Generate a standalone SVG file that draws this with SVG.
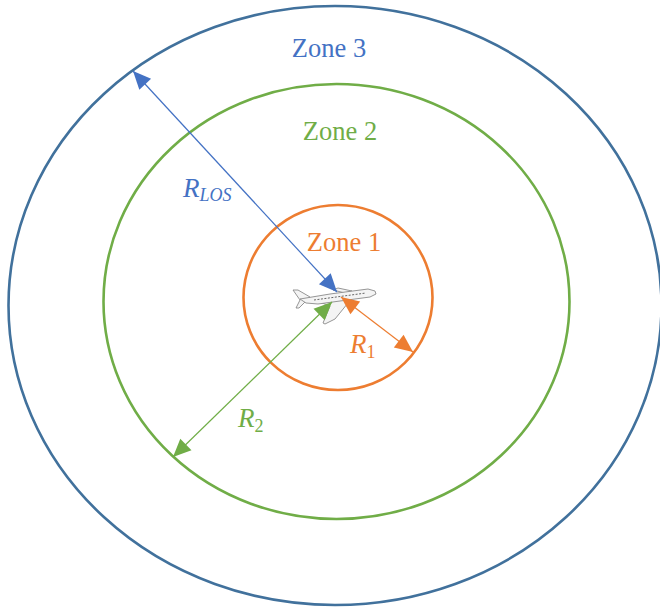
<svg xmlns="http://www.w3.org/2000/svg" width="660" height="608" viewBox="0 0 660 608">
<style>
.z{fill:none;stroke-width:2.6}
.c{fill:none;stroke-width:1.2}
.t{font-family:"Liberation Serif",serif;font-size:26.5px}
.m{font-family:"Liberation Serif",serif;font-size:27px;font-style:italic}
.s{font-size:18px}
.p{fill:#f4f4f4;stroke:#8a8a8a;stroke-width:.9}
.blue{fill:#4472c4}.green{fill:#70ad47}.orange{fill:#ed7d31}
</style>
<defs>
<marker id="ab" markerUnits="userSpaceOnUse" markerWidth="20" markerHeight="18" refX="19" refY="9" orient="auto-start-reverse"><path d="M1 1L19 9L1 17Z" fill="#4472c4"/></marker>
<marker id="ag" markerUnits="userSpaceOnUse" markerWidth="20" markerHeight="18" refX="19" refY="9" orient="auto-start-reverse"><path d="M1 1L19 9L1 17Z" fill="#70ad47"/></marker>
<marker id="ao" markerUnits="userSpaceOnUse" markerWidth="20" markerHeight="18" refX="19" refY="9" orient="auto-start-reverse"><path d="M1 1L19 9L1 17Z" fill="#ed7d31"/></marker>
</defs>
<rect width="660" height="608" fill="#fff"/>
<g id="zone3"><ellipse class="z" cx="335" cy="305.5" rx="326.5" ry="299.5" stroke="#41719c"/><text class="t blue" x="329" y="57" text-anchor="middle">Zone 3</text></g>
<g id="zone2"><ellipse class="z" cx="336.5" cy="301.5" rx="233" ry="217.5" stroke="#70ad47"/><text class="t green" x="340" y="140" text-anchor="middle">Zone 2</text></g>
<g id="zone1"><ellipse class="z" cx="338" cy="297.5" rx="94.5" ry="92.5" stroke="#ed7d31"/><text class="t orange" x="344" y="251" text-anchor="middle">Zone 1</text></g>
<g id="aircraft">
<path class="p" d="M322 303L340 299L352 298L335 319L325 324L323 323L330 306Z"/>
<path class="p" d="M333 290L338 288L352 291L345 293Z"/>
<path class="p" d="M293 290L298 290L310 297L308 299L299 308L296 308L300 300Z"/>
<path class="p" d="M300 299L330 294L368 289L375 291L376 294L370 297L340 301L318 304L306 303Z"/>
<path d="M314 300L366 293" stroke="#666" stroke-width="1" stroke-dasharray="2 1.5" fill="none"/>
</g>
<g id="connectors">
<line class="c" x1="133" y1="71" x2="337" y2="292" stroke="#4472c4" marker-start="url(#ab)" marker-end="url(#ab)"/>
<line class="c" x1="173" y1="457" x2="332" y2="302" stroke="#70ad47" marker-start="url(#ag)" marker-end="url(#ag)"/>
<line class="c" x1="341" y1="297" x2="413" y2="352" stroke="#ed7d31" marker-start="url(#ao)" marker-end="url(#ao)"/>
</g>
<g id="labels">
<text class="m blue" x="183" y="197">R<tspan class="s" dy="4">LOS</tspan></text>
<text class="m green" x="238" y="427">R<tspan class="s" dy="5" font-style="normal">2</tspan></text>
<text class="m orange" x="350" y="353">R<tspan class="s" dy="5" font-style="normal">1</tspan></text>
</g>
</svg>
